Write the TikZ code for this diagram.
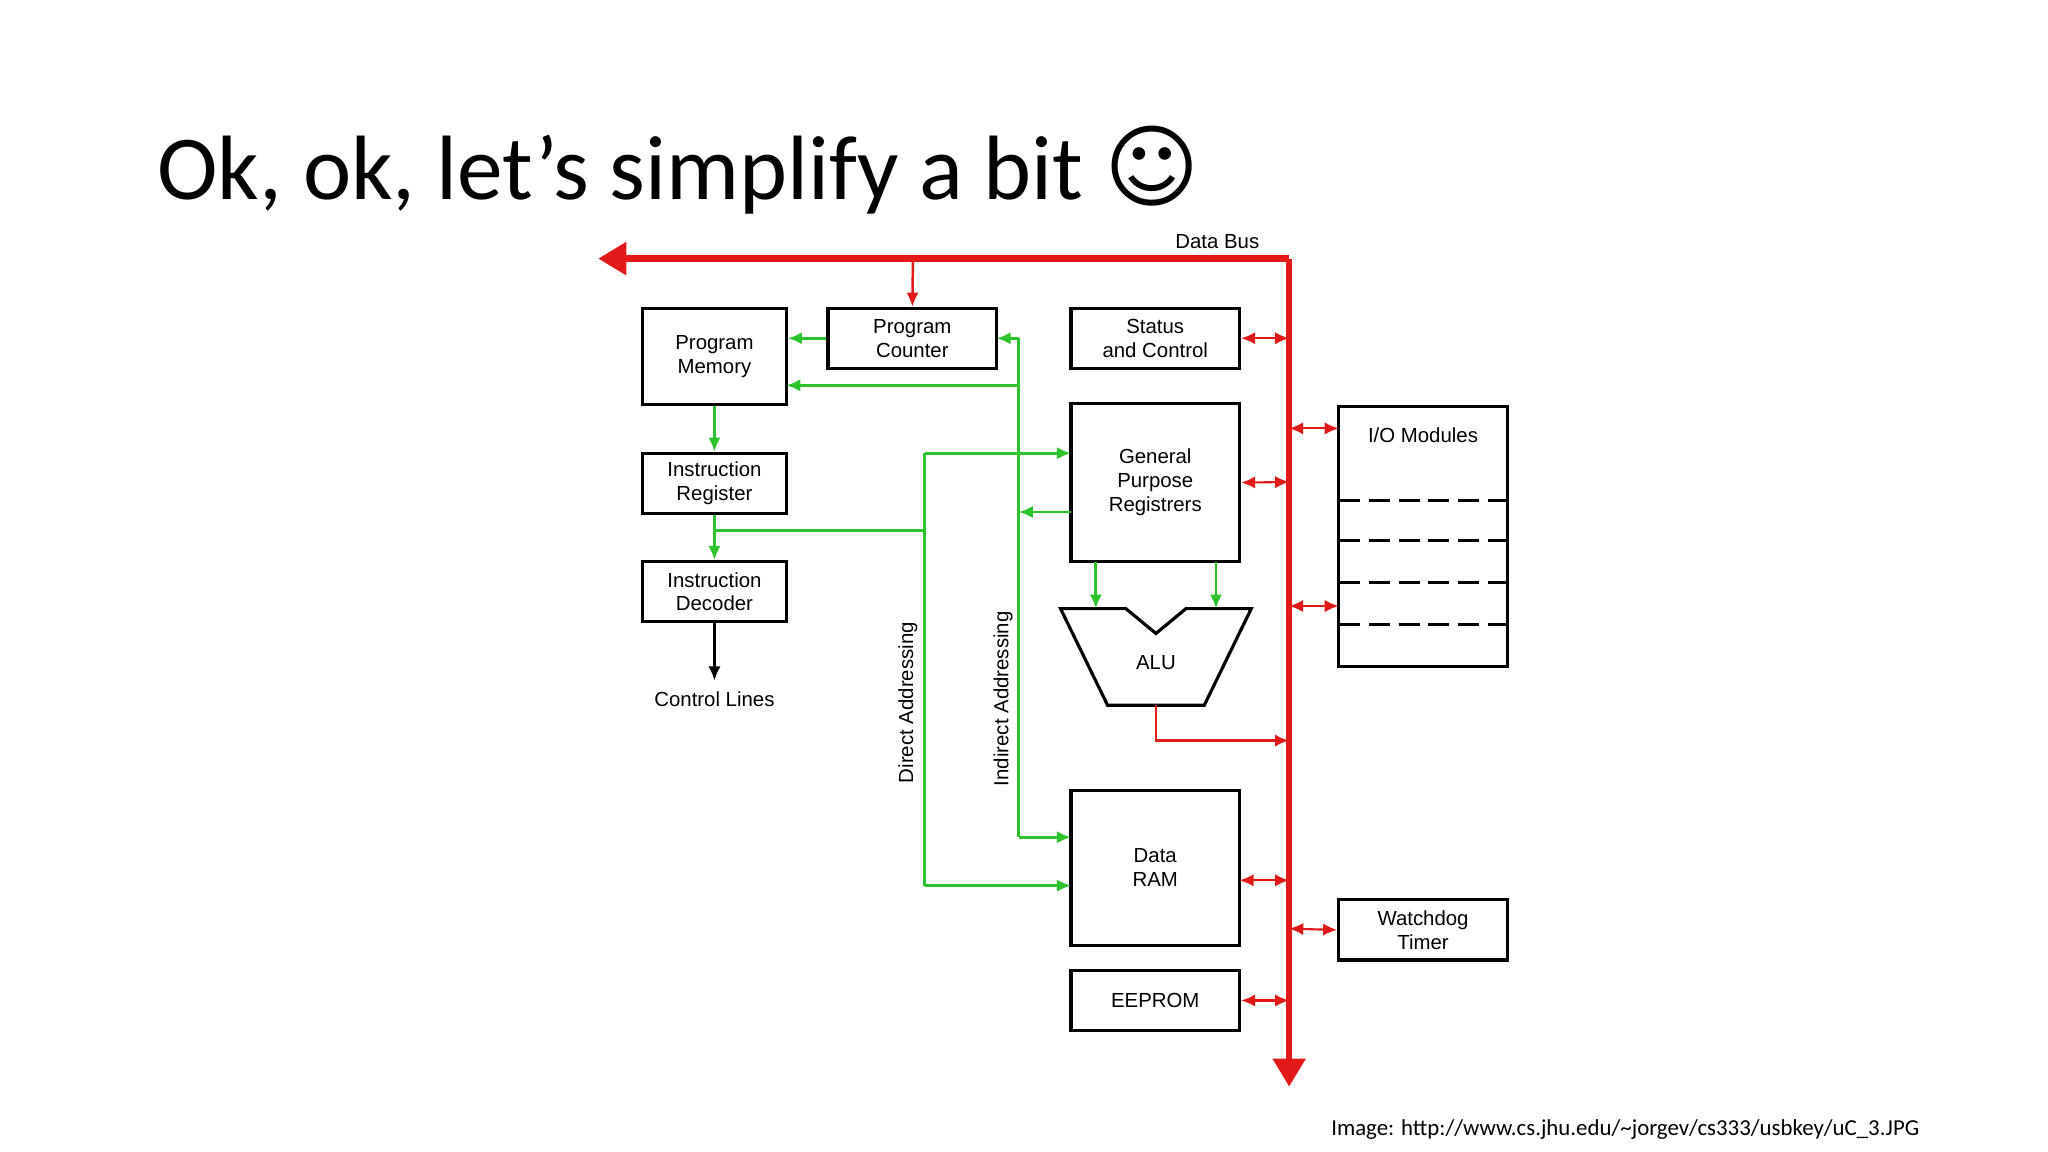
\documentclass[tikz,border=0pt]{standalone}
\usepackage{fontspec}
\setmainfont{Liberation Sans}
\newfontfamily\titlefont{Carlito}
\newfontfamily\symfont{DejaVu Sans}
\usetikzlibrary{arrows.meta,shapes.geometric}
\definecolor{busred}{RGB}{225,25,25}
\definecolor{sigreen}{RGB}{45,195,45}
\tikzset{
  blk/.style={draw,line width=0.9pt,align=center,font=\fontsize{5.8}{6.8}\selectfont,inner sep=1pt},
  bus/.style={busred,line width=1.9pt,-{Triangle[length=8pt,width=9pt]}},
  rw/.style={busred,line width=0.6pt,{Latex[length=4pt,width=3.5pt]}-{Latex[length=4pt,width=3.5pt]}},
  rd/.style={busred,line width=0.7pt,-{Latex[length=4pt,width=3.5pt]}},
  gr/.style={sigreen,line width=0.8pt,-{Latex[length=4pt,width=3.5pt]}},
  grl/.style={sigreen,line width=0.8pt},
  lbl/.style={font=\fontsize{5.8}{6.8}\selectfont,inner sep=0pt}
}
\begin{document}
\begin{tikzpicture}[x=0.01306cm,y=-0.01306cm]
\useasboundingbox (0,0) rectangle (1568,882);
\node[anchor=base west,font=\titlefont\fontsize{26}{30}\selectfont,inner sep=0pt] (title) at (120,153) {Ok, ok, let’s simplify a bit {\symfont☺}};
% blocks
\node[blk,minimum width=1.437cm,minimum height=0.966cm] (pm) at (547,273) {Program\\Memory};
\node[blk,minimum width=1.685cm,minimum height=0.601cm] (pc) at (698.5,259) {Program\\Counter};
\node[blk,minimum width=1.685cm,minimum height=0.601cm] (sc) at (884.5,259) {Status\\and Control};
\node[blk,minimum width=1.437cm,minimum height=0.601cm] (ir) at (547,370) {Instruction\\Register};
\node[blk,minimum width=1.437cm,minimum height=0.601cm] (id) at (547,453) {Instruction\\Decoder};
\node[lbl] (cl) at (547,535) {Control Lines};
\node[blk,minimum width=1.685cm,minimum height=1.58cm] (gpr) at (884.5,369.5) {General\\Purpose\\Registrers};
\node[blk,minimum width=1.685cm,minimum height=1.554cm] (ram) at (884.5,664.5) {Data\\RAM};
\node[blk,minimum width=1.685cm,minimum height=0.601cm] (ee) at (884.5,766) {EEPROM};
\node[blk,minimum width=1.685cm,minimum height=2.6cm] (io) at (1089.5,410.5) {};
\node[lbl,below=0pt] (iot) at (1089.5,327) {I/O Modules};
\node[blk,minimum width=1.685cm,minimum height=0.601cm] (wd) at (1089.5,712) {Watchdog\\Timer};
\foreach \y in {383,414,446,478}
  \draw[line width=0.9pt,dash pattern=on 6pt off 2.5pt] (1025,\y) -- (1154,\y);
% ALU
\draw[line width=0.9pt] (812,466) -- (862,466) -- (885,485) -- (908,466) -- (958,466) -- (922,540) -- (848,540) -- cycle;
\node[lbl] (alu) at (885,507) {ALU};
% data bus
\coordinate (bt) at (987,198);
\coordinate (bl) at (458,198);
\coordinate (bb) at (987,832);
\draw[bus] (bt) -- (bl);
\draw[bus] (bt) -- (bb);
\node[lbl,anchor=base] (db) at (932,190) {Data Bus};
\draw[rd] (699,198) -- (pc.north);
\draw[rw] (sc.east) -- (987,259);
\draw[rw] (gpr.east) -- (987,369);
\draw[rw] (987,328) -- (1025,328);
\draw[rw] (987,464) -- (1025,464);
\draw[rw] (949,674) -- (987,674);
\draw[rw] (987,711) -- (wd.west);
\draw[rw] (ee.east) -- (987,766);
\draw[rd] (885,540) -- (885,567) -- (987,567);
% green signals
\draw[gr] (pc.west) -- (pm.east |- pc.west);
\draw[grl] (780,259) -- (780,641);
\draw[gr] (780,259) -- (763,259);
\draw[gr] (780,295) -- (602,295);
\draw[gr] (820,392) -- (780,392);
\draw[gr] (780,641) -- (820,641);
\draw[gr] (pm.south) -- (ir.north);
\draw[gr] (ir.south) -- (id.north);
\draw[grl] (547,406) -- (708,406);
\draw[grl] (708,347) -- (708,678);
\draw[gr] (708,347) -- (820,347);
\draw[gr] (708,678) -- (820,678);
\draw[gr] (839,430) -- (839,466);
\draw[gr] (931,430) -- (931,466);
\draw[line width=0.6pt,-{Latex[length=4pt,width=3.5pt]}] (id.south) -- (547,521);
\node[lbl,rotate=90] (da) at (695,538) {Direct Addressing};
\node[lbl,rotate=90] (ia) at (768,535) {Indirect Addressing};
\node[anchor=base east,font=\titlefont\fontsize{6.5}{8}\selectfont,inner sep=0pt] (src) at (1470,869) {Image: http://www.cs.jhu.edu/\textasciitilde jorgev/cs333/usbkey/uC\_3.JPG};
\end{tikzpicture}
\end{document}
